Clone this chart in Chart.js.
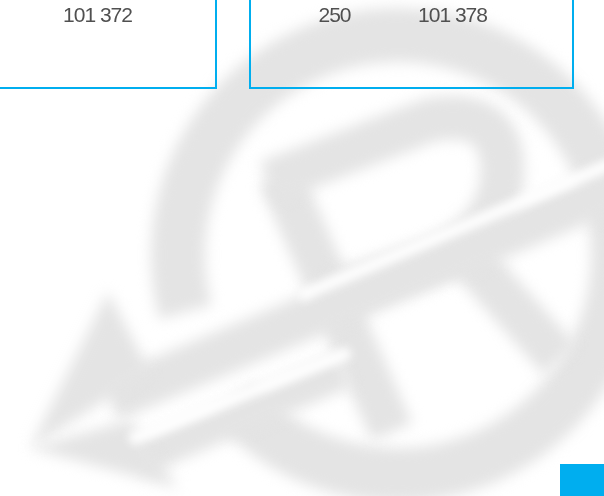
<!DOCTYPE html>
<html>
<head>
<meta charset="utf-8">
<script src="https://cdn.jsdelivr.net/npm/chart.js@4.4.1/dist/chart.umd.min.js"></script>
<style>
  html, body { margin: 0; padding: 0; background: #fff; overflow: hidden; }
  #wrap { position: relative; width: 604px; height: 496px; }
</style>
</head>
<body>
<div id="wrap"><canvas id="page" width="604" height="496"></canvas></div>
<script>
// values shown in the two framed boxes (top of the page)
var cellNames = ['total_a', 'count_b', 'total_b'];
var cellValues = [101372, 250, 101378];

// layout (pixels)
var textX = [97.5, 334.5, 452.5];
var textBaseline = 22;
var blue = '#00aeef';
var grey = '#e4e4e4';

function fmt(n) {
    // thousands separated by a space, like the print original
    return String(n).replace(/\B(?=(\d{3})+(?!\d))/g, ' ');
}

// big faded logo behind everything
function drawWatermark(ctx) {
    ctx.save();
    ctx.filter = 'blur(7px)';
    ctx.strokeStyle = grey;
    ctx.fillStyle = grey;
    ctx.lineCap = 'butt';
    ctx.lineJoin = 'round';

    // ring, open at the lower left where the arrow comes out
    ctx.lineWidth = 54;
    ctx.beginPath();
    ctx.arc(398, 255, 220, 165 * Math.PI / 180, 498 * Math.PI / 180);
    ctx.stroke();

    // R : stem
    ctx.lineWidth = 44;
    ctx.beginPath();
    ctx.moveTo(280, 176);
    ctx.lineTo(392, 432);
    ctx.stroke();

    // R : bowl
    ctx.beginPath();
    ctx.moveTo(268, 182);
    ctx.lineTo(430, 120);
    ctx.quadraticCurveTo(508, 106, 502, 180);
    ctx.quadraticCurveTo(496, 238, 420, 264);
    ctx.lineTo(335, 294);
    ctx.stroke();

    // R : leg
    ctx.beginPath();
    ctx.moveTo(462, 250);
    ctx.lineTo(560, 360);
    ctx.stroke();

    // arrow shafts
    ctx.lineWidth = 44;
    ctx.beginPath();
    ctx.moveTo(620, 186);
    ctx.lineTo(110, 400);
    ctx.stroke();
    ctx.lineWidth = 36;
    ctx.beginPath();
    ctx.moveTo(345, 370);
    ctx.lineTo(140, 458);
    ctx.stroke();

    // arrow head
    ctx.beginPath();
    ctx.moveTo(108, 292);
    ctx.lineTo(150, 372);
    ctx.lineTo(30, 448);
    ctx.closePath();
    ctx.fill();
    ctx.beginPath();
    ctx.moveTo(30, 448);
    ctx.lineTo(130, 420);
    ctx.lineTo(178, 488);
    ctx.closePath();
    ctx.fill();
    ctx.restore();

    // white gaps that separate the bands of the logo
    ctx.save();
    ctx.filter = 'blur(5px)';
    ctx.strokeStyle = '#fff';
    ctx.lineWidth = 12;
    ctx.beginPath();
    ctx.moveTo(620, 160);
    ctx.lineTo(300, 296);
    ctx.stroke();
    ctx.beginPath();
    ctx.moveTo(350, 352);
    ctx.lineTo(130, 440);
    ctx.stroke();
    ctx.restore();
}

function drawBoxes(ctx) {
    ctx.save();
    ctx.strokeStyle = blue;
    ctx.lineWidth = 2;
    ctx.strokeRect(-10, -10, 226, 98);
    ctx.strokeRect(250, -10, 323, 98);
    ctx.fillStyle = blue;
    ctx.fillRect(560, 464, 44, 32);
    ctx.restore();
}

function drawValues(ctx) {
    ctx.save();
    ctx.fillStyle = '#505050';
    ctx.font = '21px "Liberation Sans", Arial, sans-serif';
    if ('letterSpacing' in ctx) ctx.letterSpacing = '-1px';
    ctx.textAlign = 'center';
    ctx.textBaseline = 'alphabetic';
    for (var i = 0; i < cellValues.length; i++) {
        ctx.fillText(fmt(cellValues[i]), textX[i], textBaseline);
    }
    ctx.restore();
}

var pagePlugin = {
    id: 'page',
    beforeDraw: function (chart) {
        var ctx = chart.ctx;
        ctx.save();
        ctx.fillStyle = '#fff';
        ctx.fillRect(0, 0, chart.width, chart.height);
        ctx.restore();
        drawWatermark(ctx);
    },
    afterDraw: function (chart) {
        drawBoxes(chart.ctx);
        drawValues(chart.ctx);
    }
};

new Chart(document.getElementById('page'), {
    type: 'bar',
    data: {
        labels: cellNames,
        datasets: []
    },
    options: {
        responsive: false,
        animation: false,
        events: [],
        layout: { padding: 0 },
        scales: {
            x: { display: false },
            y: { display: false }
        },
        plugins: {
            legend: { display: false },
            tooltip: { enabled: false }
        }
    },
    plugins: [pagePlugin]
});
</script>
</body>
</html>
